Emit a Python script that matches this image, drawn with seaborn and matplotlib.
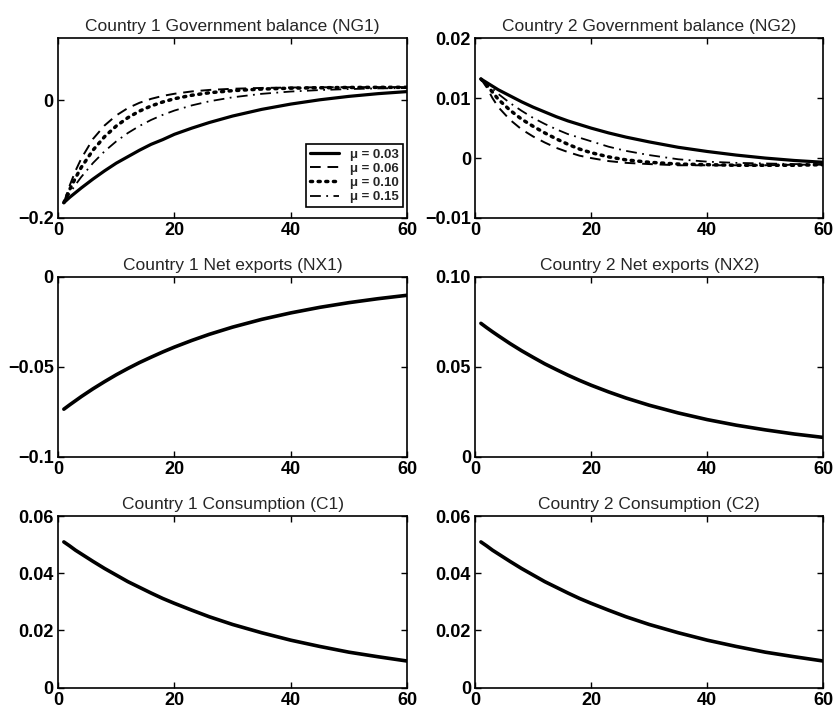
import numpy as np
import pandas as pd
import matplotlib
matplotlib.use("Agg")
import matplotlib.pyplot as plt
import seaborn as sns
from matplotlib.lines import Line2D

# ---------------- data ----------------
periods = [1, 2, 3, 4, 6, 8, 10, 12, 14, 16, 18, 20, 23, 26, 30, 35, 40, 45, 50, 55, 60]
mu_labels = ["μ = 0.03", "μ = 0.06", "μ = 0.10", "μ = 0.15"]

ng1_mu003 = [-0.174, -0.165, -0.157, -0.149, -0.134, -0.120, -0.107, -0.096, -0.085, -0.075,
             -0.067, -0.058, -0.0475, -0.038, -0.027, -0.0157, -0.0067, 0.0006, 0.0064, 0.011, 0.0145]
ng1_mu006 = [-0.174, -0.145, -0.120, -0.099, -0.066, -0.043, -0.026, -0.0135, -0.0045, 0.0022,
             0.0072, 0.0108, 0.0148, 0.0173, 0.0193, 0.0207, 0.0214, 0.0218, 0.0220, 0.0221, 0.0222]
ng1_mu010 = [-0.174, -0.1517, -0.132, -0.114, -0.085, -0.062, -0.044, -0.0298, -0.0186, -0.0099,
             -0.0031, 0.0024, 0.0083, 0.0125, 0.0161, 0.0188, 0.0203, 0.0210, 0.0215, 0.0217, 0.0218]
ng1_mu015 = [-0.174, -0.158, -0.1436, -0.1303, -0.1068, -0.0868, -0.070, -0.0558, -0.0438, -0.0336,
             -0.0250, -0.0177, -0.0089, -0.0020, 0.0048, 0.0107, 0.0146, 0.0171, 0.0188, 0.0199, 0.0206]

ng2_mu003 = [0.0132, 0.0126, 0.0120, 0.0114, 0.0104, 0.0094, 0.0085, 0.0077, 0.0069, 0.0062,
             0.0056, 0.0050, 0.0042, 0.0035, 0.0027, 0.0018, 0.0011, 0.0005, 0.0000, -0.0004, -0.0007]
ng2_mu006 = [0.0132, 0.0118, 0.0100, 0.0085, 0.0064, 0.0048, 0.0036, 0.0026, 0.0017, 0.0010,
             0.0004, 0.0000, -0.0005, -0.0008, -0.0010, -0.0012, -0.0012, -0.0012, -0.0012, -0.0011, -0.0011]
ng2_mu010 = [0.0132, 0.0122, 0.0110, 0.0098, 0.0080, 0.0065, 0.0053, 0.0042, 0.0032, 0.0023,
             0.0015, 0.0009, 0.0002, -0.0003, -0.0007, -0.0010, -0.0011, -0.0012, -0.0012, -0.0012, -0.0011]
ng2_mu015 = [0.0132, 0.0125, 0.0116, 0.0107, 0.0092, 0.0079, 0.0067, 0.0057, 0.0048, 0.0040,
             0.0034, 0.0028, 0.0019, 0.0012, 0.0005, -0.0002, -0.0006, -0.0008, -0.0009, -0.0010, -0.0010]

nx1 = [-0.0736, -0.0712, -0.0689, -0.0666, -0.0623, -0.0583, -0.0545, -0.0510, -0.0477, -0.0447,
       -0.0418, -0.0391, -0.0354, -0.0320, -0.0280, -0.0237, -0.0201, -0.0170, -0.0144, -0.0122, -0.0103]
nx2 = [0.0741, 0.0717, 0.0694, 0.0672, 0.0629, 0.0589, 0.0552, 0.0516, 0.0484, 0.0453,
       0.0424, 0.0397, 0.0360, 0.0326, 0.0286, 0.0243, 0.0206, 0.0175, 0.0149, 0.0126, 0.0107]
c1 = [0.0510, 0.0496, 0.0481, 0.0468, 0.0442, 0.0417, 0.0394, 0.0371, 0.0351, 0.0331,
      0.0312, 0.0295, 0.0271, 0.0248, 0.0221, 0.0192, 0.0166, 0.0144, 0.0124, 0.0108, 0.0093]
c2 = [0.0510, 0.0496, 0.0481, 0.0468, 0.0442, 0.0417, 0.0394, 0.0371, 0.0351, 0.0331,
      0.0312, 0.0295, 0.0271, 0.0248, 0.0221, 0.0192, 0.0166, 0.0144, 0.0124, 0.0108, 0.0093]

titles = ["Country 1 Government balance (NG1)", "Country 2 Government balance (NG2)",
          "Country 1 Net exports (NX1)", "Country 2 Net exports (NX2)",
          "Country 1 Consumption (C1)", "Country 2 Consumption (C2)"]
x_ticks = [0, 20, 40, 60]
y_ticks = [[-0.2, 0], [-0.01, 0, 0.01, 0.02], [-0.1, -0.05, 0], [0, 0.05, 0.10],
           [0, 0.02, 0.04, 0.06], [0, 0.02, 0.04, 0.06]]
y_ticklabels = [["\u22120.2", "0"], ["\u22120.01", "0", "0.01", "0.02"],
                ["\u22120.1", "\u22120.05", "0"], ["0", "0.05", "0.10"],
                ["0", "0.02", "0.04", "0.06"], ["0", "0.02", "0.04", "0.06"]]
y_lims = [(-0.2, 0.105), (-0.01, 0.02), (-0.1, 0.0), (0.0, 0.10), (0.0, 0.06), (0.0, 0.06)]

# ---------------- style ----------------
sns.set_style("white")
plt.rcParams["font.family"] = ["Liberation Sans", "DejaVu Sans"]
plt.rcParams["axes.edgecolor"] = "black"
plt.rcParams["axes.linewidth"] = 1.2

styles = {
    "μ = 0.03": dict(linestyle="-", linewidth=2.3),
    "μ = 0.06": dict(linestyle=(0, (5.5, 3.5)), linewidth=1.4),
    "μ = 0.10": dict(linestyle=(0, (0.6, 1.6)), linewidth=2.5, dash_capstyle="round"),
    "μ = 0.15": dict(linestyle=(0, (6, 3, 1, 3)), linewidth=1.3),
}

fig = plt.figure(figsize=(8.35, 7.14), dpi=100)
lefts = [0.0695, 0.569]
widths = [0.418, 0.417]
bottoms = [0.6947, 0.3604, 0.037]
heights = [0.2517, 0.252, 0.240]

axes = []
for r in range(3):
    for c in range(2):
        axes.append(fig.add_axes([lefts[c], bottoms[r], widths[c], heights[r]]))

ng1 = pd.DataFrame({"t": periods * 4,
                    "v": ng1_mu003 + ng1_mu006 + ng1_mu010 + ng1_mu015,
                    "mu": sum([[m] * len(periods) for m in mu_labels], [])})
ng2 = pd.DataFrame({"t": periods * 4,
                    "v": ng2_mu003 + ng2_mu006 + ng2_mu010 + ng2_mu015,
                    "mu": sum([[m] * len(periods) for m in mu_labels], [])})

for ax, df in [(axes[0], ng1), (axes[1], ng2)]:
    for m in mu_labels[::-1]:
        sub = df[df["mu"] == m]
        sns.lineplot(data=sub, x="t", y="v", ax=ax, color="black", legend=False,
                     solid_capstyle="round", **styles[m])

single = [nx1, nx2, c1, c2]
for ax, vals in zip(axes[2:], single):
    df = pd.DataFrame({"t": periods, "v": vals})
    sns.lineplot(data=df, x="t", y="v", ax=ax, color="black", linewidth=2.6, legend=False,
                 solid_capstyle="round")

for i, ax in enumerate(axes):
    ax.set_xlim(0, 60)
    ax.set_ylim(*y_lims[i])
    ax.set_xticks(x_ticks)
    ax.set_xticklabels([str(v) for v in x_ticks], fontsize=13, fontweight="bold")
    ax.set_yticks(y_ticks[i])
    ax.set_yticklabels(y_ticklabels[i], fontsize=13, fontweight="bold")
    ax.set_xlabel("")
    ax.set_ylabel("")
    ax.tick_params(direction="in", length=4, width=1, top=True, right=True,
                   bottom=True, left=True, pad=3, colors="black")
    ax.set_title(titles[i], fontsize=12.5, pad=5)
    for s in ax.spines.values():
        s.set_visible(True)
        s.set_color("black")

handles = [Line2D([0], [0], color="black", **styles[m]) for m in mu_labels]
leg = axes[0].legend(handles, mu_labels, loc="lower right", bbox_to_anchor=(0.988, 0.06),
                     borderaxespad=0, fancybox=False, framealpha=1, edgecolor="black",
                     prop={"size": 9.5, "weight": "bold"}, handlelength=2.2,
                     handletextpad=0.8, labelspacing=0.15, borderpad=0.3)
leg.get_frame().set_linewidth(1.2)

fig.savefig("out.png", dpi=100)
